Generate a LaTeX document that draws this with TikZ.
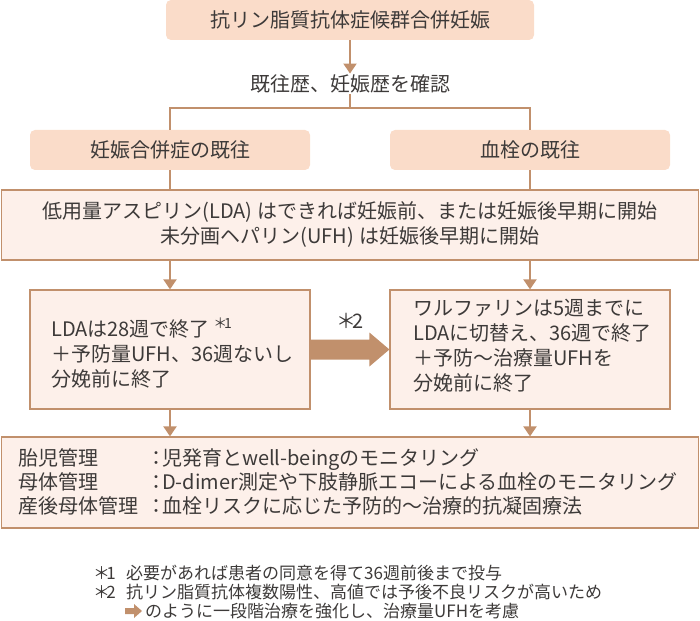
\documentclass[tikz,border=0pt]{standalone}
\usepackage{fontspec}
\setmainfont{Noto Sans CJK JP}
\usetikzlibrary{arrows.meta,calc}
\definecolor{brn}{HTML}{C1906C}
\definecolor{peach}{HTML}{FADCC9}
\definecolor{pale}{HTML}{FDF0EA}
\definecolor{ink}{HTML}{3D3A39}
\newcommand{\notemark}{＊\hspace{-0.22em}}
\newcommand{\carelabel}[1]{\makebox[128pt][l]{#1}：\hspace{-4pt}}
\begin{document}
\begin{tikzpicture}[x=1pt,y=-1pt,
    font=\fontsize{20}{25}\selectfont, text=ink,
    headbox/.style={fill=peach,rounded corners=5pt,minimum width=280pt,minimum height=40pt,inner sep=0pt},
    planbox/.style={draw=brn,fill=pale,line width=1.2pt,inner sep=0pt},
    ln/.style={draw=brn,line width=2pt},
    arr/.style={ln,-{Triangle[width=13pt,length=10pt]}},
    note/.style={anchor=west,inner sep=0pt,font=\fontsize{17}{19}\selectfont}]
    \useasboundingbox (0,0) rectangle (700,620);
    % header and split
    \node[headbox,minimum width=368pt] (top) at (350,20) {抗リン脂質抗体症候群合併妊娠};
    \node[inner sep=1pt] (confirm) at (350,84) {既往歴、妊娠歴を確認};
    \coordinate (split) at (350,108);
    \node[headbox] (hist1) at (170,150) {妊娠合併症の既往};
    \node[headbox] (hist2) at (530,150) {血栓の既往};
    \draw[arr] (top.south) -- (confirm.north);
    \draw[ln] (confirm.south) -- (split);
    \draw[ln] (hist1.north) |- (split) -| (hist2.north);
    % common start
    \node[planbox,minimum width=697pt,minimum height=70pt,align=center] (start) at (350,225)
        {低用量アスピリン(LDA)\hspace{0.25em}はできれば妊娠前、または妊娠後早期に開始\\未分画ヘパリン(UFH)\hspace{0.25em}は妊娠後早期に開始};
    \draw[ln] (hist1.south) -- (hist1.south |- start.north);
    \draw[ln] (hist2.south) -- (hist2.south |- start.north);
    % two plans
    \node[planbox,minimum width=280pt,minimum height=119pt] (lbox) at (170,349.5) {};
    \node[planbox,minimum width=280pt,minimum height=119pt] (rbox) at (530,349.5) {};
    \node[anchor=west,align=left,inner sep=0pt] (ltext) at (51,353)
        {LDAは28週で終了\,\textsuperscript{\notemark1}\\＋予防量UFH、36週ないし\\分娩前に終了};
    \node[anchor=west,align=left,inner sep=0pt] (rtext) at (413,345.5)
        {ワルファリンは5週までに\\LDAに切替え、36週で終了\\＋予防～治療量UFHを\\分娩前に終了};
    \draw[arr] (start.south -| lbox) -- (lbox.north);
    \draw[arr] (start.south -| rbox) -- (rbox.north);
    \fill[brn] ($(lbox.east)+(0,-10)$) -- ($(rbox.west)+(-20,-10)$) -- ($(rbox.west)+(-20,-17)$)
        -- (rbox.west) -- ($(rbox.west)+(-20,17)$) -- ($(rbox.west)+(-20,10)$)
        -- ($(lbox.east)+(0,10)$) -- cycle;
    \node (step2) at (350,321) {\notemark2};
    % management
    \node[planbox,minimum width=697pt,minimum height=91pt] (care) at (350,482.5) {};
    \node[anchor=west,inner sep=0pt] (caretext) at (18,484.5) {\fontsize{20}{24}\selectfont
        \begin{tabular}{@{}l@{}}
        \carelabel{胎児管理}児発育とwell-beingのモニタリング\\
        \carelabel{母体管理}D-dimer測定や下肢静脈エコーによる血栓のモニタリング\\
        \carelabel{産後母体管理}血栓リスクに応じた予防的～治療的抗凝固療法
        \end{tabular}};
    \draw[arr] (lbox.south) -- (lbox.south |- care.north);
    \draw[arr] (rbox.south) -- (rbox.south |- care.north);
    % notes
    \node[note] (mark1) at (93,573) {\notemark1};
    \node[note] (note1) at (126,573) {必要があれば患者の同意を得て36週前後まで投与};
    \node[note] (mark2) at (93,592) {\notemark2};
    \node[note] (note2) at (126,592) {抗リン脂質抗体複数陽性、高値では予後不良リスクが高いため};
    \node[note] (note3) at (145,611) {のように一段階治療を強化し、治療量UFHを考慮};
    \fill[brn] ($(note3.west)+(-20,-3)$) -- ($(note3.west)+(-11,-3)$) -- ($(note3.west)+(-11,-7)$)
        -- ($(note3.west)+(-3,0)$) -- ($(note3.west)+(-11,7)$) -- ($(note3.west)+(-11,3)$)
        -- ($(note3.west)+(-20,3)$) -- cycle;
\end{tikzpicture}
\end{document}
